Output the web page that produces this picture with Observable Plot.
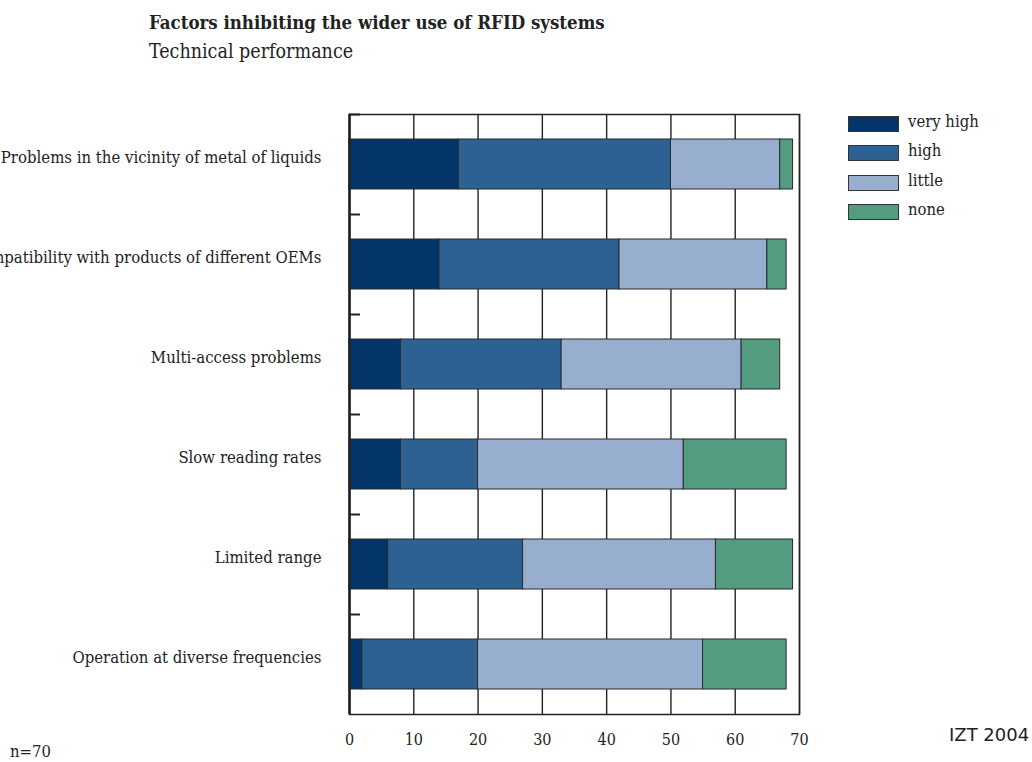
<!DOCTYPE html>
<html>
<head>
<meta charset="utf-8">
<script src="https://cdn.jsdelivr.net/npm/d3@7"></script>
<script src="https://cdn.jsdelivr.net/npm/@observablehq/plot@0.6"></script>
<style>
  html, body { margin: 0; padding: 0; background: white; }
  #wrap { position: relative; width: 1032px; height: 762px; overflow: hidden;
          font-family: "DejaVu Serif Condensed", "DejaVu Serif", serif; font-stretch: condensed; color: #222; }
  #chart { position: absolute; left: 0; top: 0; }
  .abs { position: absolute; white-space: nowrap; line-height: 1; }
  #title { left: 149px; top: 14px; font-size: 18.5px; font-weight: bold; }
  #subtitle { left: 149px; top: 42px; font-size: 19.5px; }
  #n { left: 10px; top: 744px; font-size: 16.5px; }
  #src { left: 949px; top: 726px; font-family: "DejaVu Sans", sans-serif; font-stretch: normal; font-size: 18px; }
  .sw { position: absolute; width: 49px; height: 14px; border: 1px solid #333; }
  .lt { position: absolute; font-size: 16.5px; line-height: 1; white-space: nowrap; }
</style>
</head>
<body>
<div id="wrap">
  <div id="chart"></div>
  <div id="title" class="abs">Factors inhibiting the wider use of RFID systems</div>
  <div id="subtitle" class="abs">Technical performance</div>
  <div id="n" class="abs">n=70</div>
  <div id="src" class="abs">IZT 2004</div>
  <div id="legend"></div>
</div>
<script>
const categories = [
  "Problems in the vicinity of metal of liquids",
  "Incompatibility with products of different OEMs",
  "Multi-access problems",
  "Slow reading rates",
  "Limited range",
  "Operation at diverse frequencies"
];
const series = ["very high", "high", "little", "none"];
const veryHigh = [17, 14, 8, 8, 6, 2];
const high     = [33, 28, 25, 12, 21, 18];
const little   = [17, 23, 28, 32, 30, 35];
const none     = [2, 3, 6, 16, 12, 13];
const colors = ["#03356a", "#2c6191", "#97aecf", "#539c80"];
const xTicks = [0, 10, 20, 30, 40, 50, 60, 70];

const seriesValues = [veryHigh, high, little, none];
const rows = categories.flatMap((c, i) =>
  series.map((s, j) => ({cat: c, idx: i, series: s, value: seriesValues[j][i]}))
);

const chart = Plot.plot({
  width: 1032,
  height: 762,
  marginLeft: 349,
  marginRight: 233,
  marginTop: 114,
  marginBottom: 48,
  style: {fontFamily: "'DejaVu Serif Condensed', 'DejaVu Serif', serif", fontStretch: "condensed", fontSize: "16px", color: "#222", background: "transparent", overflow: "visible"},
  x: {domain: [0, 70], label: null},
  y: {domain: [categories.length, 0], label: null},
  color: {domain: series, range: colors},
  marks: [
    Plot.ruleX(xTicks, {stroke: "#222", strokeWidth: 1.4}),
    Plot.rectX(rows, Plot.stackX({
      x: "value",
      y1: d => d.idx + 0.25,
      y2: d => d.idx + 0.75,
      fill: "series",
      stroke: "#2a2a2a",
      strokeWidth: 1
    })),
    Plot.frame({stroke: "#222", strokeWidth: 1.5}),
    Plot.ruleX([0], {stroke: "#222", strokeWidth: 2.5}),
    Plot.axisX({ticks: xTicks, tickSize: 0, tickPadding: 19, label: null, fontSize: 16}),
    Plot.axisY({
      ticks: d3.range(categories.length).map(i => i + 0.5),
      tickFormat: v => categories[Math.floor(v)],
      tickSize: 0, tickPadding: 28, dy: -7, label: null, fontSize: 16.6
    }),
    Plot.axisY({
      ticks: d3.range(categories.length),
      tickFormat: () => "",
      tickSize: -11, strokeWidth: 2, label: null
    })
  ]
});
document.getElementById("chart").appendChild(chart);

const legend = document.getElementById("legend");
series.forEach((s, j) => {
  const top = 116 + j * 29.3;
  const sw = document.createElement("div");
  sw.className = "sw";
  sw.style.left = "848px";
  sw.style.top = top + "px";
  sw.style.background = colors[j];
  legend.appendChild(sw);
  const t = document.createElement("div");
  t.className = "lt";
  t.style.left = "908px";
  t.style.top = (top - 2) + "px";
  t.textContent = s;
  legend.appendChild(t);
});
</script>
</body>
</html>
